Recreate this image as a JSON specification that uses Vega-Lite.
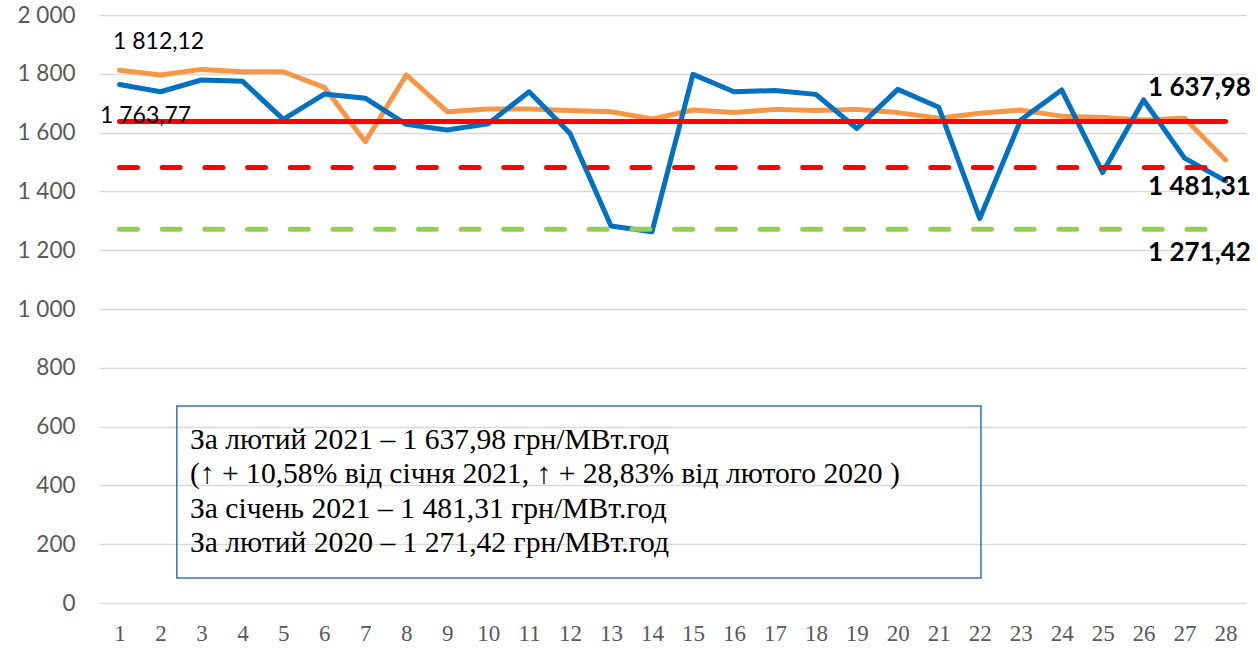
{
  "$schema": "https://vega.github.io/schema/vega-lite/v6.json",
  "width": 1147,
  "height": 588,
  "autosize": "none",
  "padding": {"left": 99, "top": 15, "right": 12, "bottom": 46},
  "background": "white",
  "config": {"view": {"stroke": null}},
  "datasets": {
    "series": [
      {"day": 1, "series": "orange", "value": 1812.12},
      {"day": 2, "series": "orange", "value": 1796},
      {"day": 3, "series": "orange", "value": 1815},
      {"day": 4, "series": "orange", "value": 1807},
      {"day": 5, "series": "orange", "value": 1807},
      {"day": 6, "series": "orange", "value": 1754},
      {"day": 7, "series": "orange", "value": 1569},
      {"day": 8, "series": "orange", "value": 1796},
      {"day": 9, "series": "orange", "value": 1671},
      {"day": 10, "series": "orange", "value": 1680},
      {"day": 11, "series": "orange", "value": 1680},
      {"day": 12, "series": "orange", "value": 1675},
      {"day": 13, "series": "orange", "value": 1671},
      {"day": 14, "series": "orange", "value": 1646},
      {"day": 15, "series": "orange", "value": 1677},
      {"day": 16, "series": "orange", "value": 1668},
      {"day": 17, "series": "orange", "value": 1679},
      {"day": 18, "series": "orange", "value": 1675},
      {"day": 19, "series": "orange", "value": 1679},
      {"day": 20, "series": "orange", "value": 1668},
      {"day": 21, "series": "orange", "value": 1649},
      {"day": 22, "series": "orange", "value": 1666},
      {"day": 23, "series": "orange", "value": 1677},
      {"day": 24, "series": "orange", "value": 1656},
      {"day": 25, "series": "orange", "value": 1651},
      {"day": 26, "series": "orange", "value": 1643},
      {"day": 27, "series": "orange", "value": 1649},
      {"day": 28, "series": "orange", "value": 1507},
      {"day": 1, "series": "blue", "value": 1763.77},
      {"day": 2, "series": "blue", "value": 1739},
      {"day": 3, "series": "blue", "value": 1779},
      {"day": 4, "series": "blue", "value": 1775},
      {"day": 5, "series": "blue", "value": 1645},
      {"day": 6, "series": "blue", "value": 1731},
      {"day": 7, "series": "blue", "value": 1717},
      {"day": 8, "series": "blue", "value": 1628},
      {"day": 9, "series": "blue", "value": 1609},
      {"day": 10, "series": "blue", "value": 1630},
      {"day": 11, "series": "blue", "value": 1739},
      {"day": 12, "series": "blue", "value": 1597},
      {"day": 13, "series": "blue", "value": 1282},
      {"day": 14, "series": "blue", "value": 1263},
      {"day": 15, "series": "blue", "value": 1798},
      {"day": 16, "series": "blue", "value": 1739},
      {"day": 17, "series": "blue", "value": 1743},
      {"day": 18, "series": "blue", "value": 1730},
      {"day": 19, "series": "blue", "value": 1614},
      {"day": 20, "series": "blue", "value": 1747},
      {"day": 21, "series": "blue", "value": 1686},
      {"day": 22, "series": "blue", "value": 1308},
      {"day": 23, "series": "blue", "value": 1643},
      {"day": 24, "series": "blue", "value": 1745},
      {"day": 25, "series": "blue", "value": 1464},
      {"day": 26, "series": "blue", "value": 1711},
      {"day": 27, "series": "blue", "value": 1513},
      {"day": 28, "series": "blue", "value": 1436}
    ]
  },
  "layer": [
    {
      "data": {"values": [{"day": 1, "value": 0}]},
      "mark": {"type": "point", "opacity": 0},
      "encoding": {
        "x": {
          "field": "day", "type": "quantitative",
          "scale": {"domain": [0.5, 28.5], "nice": false, "zero": false},
          "axis": {
            "values": [1,2,3,4,5,6,7,8,9,10,11,12,13,14,15,16,17,18,19,20,21,22,23,24,25,26,27,28],
            "format": "d", "grid": false, "domain": false, "ticks": false,
            "labelFont": "Liberation Serif", "labelFontSize": 23, "labelColor": "#595959",
            "labelPadding": 19, "title": null
          }
        },
        "y": {
          "field": "value", "type": "quantitative",
          "scale": {"domain": [0, 2000], "nice": false},
          "axis": {
            "values": [0,200,400,600,800,1000,1200,1400,1600,1800,2000],
            "labelExpr": "replace(format(datum.value, ','), ',', ' ')",
            "grid": true, "gridColor": "#D9D9D9", "gridWidth": 1.3,
            "domain": false, "ticks": false,
            "labelFont": "Lato", "labelFontSize": 22.5, "labelColor": "#595959",
            "labelPadding": 24, "title": null
          }
        }
      }
    },
    {
      "data": {"values": [{"day": 2.40, "day2": 22.03, "value": 670, "value2": 85}]},
      "mark": {"type": "rect", "fill": null, "fillOpacity": 0, "stroke": "#2E75B6", "strokeWidth": 1.5},
      "encoding": {
        "x": {"field": "day", "type": "quantitative"},
        "x2": {"field": "day2"},
        "y": {"field": "value", "type": "quantitative"},
        "y2": {"field": "value2"}
      }
    },
    {
      "data": {"name": "series"},
      "transform": [{"filter": "datum.series === 'orange'"}],
      "mark": {"type": "line", "color": "#F79646", "strokeWidth": 5, "strokeJoin": "round", "strokeCap": "round"},
      "encoding": {
        "x": {"field": "day", "type": "quantitative"},
        "y": {"field": "value", "type": "quantitative"}
      }
    },
    {
      "data": {"name": "series"},
      "transform": [{"filter": "datum.series === 'blue'"}],
      "mark": {"type": "line", "color": "#0070C0", "strokeWidth": 5, "strokeJoin": "round", "strokeCap": "round"},
      "encoding": {
        "x": {"field": "day", "type": "quantitative"},
        "y": {"field": "value", "type": "quantitative"}
      }
    },
    {
      "data": {"values": [{"day": 1, "day2": 28, "value": 1637.98}]},
      "mark": {"type": "rule", "color": "#FF0000", "strokeWidth": 5, "strokeCap": "round"},
      "encoding": {
        "x": {"field": "day", "type": "quantitative"},
        "x2": {"field": "day2"},
        "y": {"field": "value", "type": "quantitative"}
      }
    },
    {
      "data": {"values": [{"day": 1, "day2": 28, "value": 1481.31}]},
      "mark": {"type": "rule", "color": "#FF0000", "strokeWidth": 5, "strokeCap": "round", "strokeDash": [18, 24.7]},
      "encoding": {
        "x": {"field": "day", "type": "quantitative"},
        "x2": {"field": "day2"},
        "y": {"field": "value", "type": "quantitative"}
      }
    },
    {
      "data": {"values": [{"day": 1, "day2": 28, "value": 1271.42}]},
      "mark": {"type": "rule", "color": "#92D050", "strokeWidth": 5, "strokeCap": "round", "strokeDash": [18, 24.7]},
      "encoding": {
        "x": {"field": "day", "type": "quantitative"},
        "x2": {"field": "day2"},
        "y": {"field": "value", "type": "quantitative"}
      }
    },
    {
      "data": {"values": [{"day": 1, "value": 1812.12, "label": "1 812,12"}]},
      "mark": {"type": "text", "align": "left", "baseline": "middle", "dx": -6.5, "dy": -28, "font": "Lato", "fontSize": 23, "color": "#000000"},
      "encoding": {
        "x": {"field": "day", "type": "quantitative"},
        "y": {"field": "value", "type": "quantitative"},
        "text": {"field": "label"}
      }
    },
    {
      "data": {"values": [{"day": 1, "value": 1763.77, "label": "1 763,77"}]},
      "mark": {"type": "text", "align": "left", "baseline": "middle", "dx": -19.5, "dy": 32, "font": "Lato", "fontSize": 23, "color": "#000000"},
      "encoding": {
        "x": {"field": "day", "type": "quantitative"},
        "y": {"field": "value", "type": "quantitative"},
        "text": {"field": "label"}
      }
    },
    {
      "data": {"values": [{"day": 28, "value": 1637.98, "label": "1 637,98"}]},
      "mark": {"type": "text", "align": "left", "baseline": "middle", "dx": -77.5, "dy": -33, "font": "Lato", "fontSize": 26, "fontWeight": "bold", "color": "#000000"},
      "encoding": {
        "x": {"field": "day", "type": "quantitative"},
        "y": {"field": "value", "type": "quantitative"},
        "text": {"field": "label"}
      }
    },
    {
      "data": {"values": [{"day": 28, "value": 1481.31, "label": "1 481,31"}]},
      "mark": {"type": "text", "align": "left", "baseline": "middle", "dx": -77.5, "dy": 20, "font": "Lato", "fontSize": 26, "fontWeight": "bold", "color": "#000000"},
      "encoding": {
        "x": {"field": "day", "type": "quantitative"},
        "y": {"field": "value", "type": "quantitative"},
        "text": {"field": "label"}
      }
    },
    {
      "data": {"values": [{"day": 28, "value": 1271.42, "label": "1 271,42"}]},
      "mark": {"type": "text", "align": "left", "baseline": "middle", "dx": -77.5, "dy": 24, "font": "Lato", "fontSize": 26, "fontWeight": "bold", "color": "#000000"},
      "encoding": {
        "x": {"field": "day", "type": "quantitative"},
        "y": {"field": "value", "type": "quantitative"},
        "text": {"field": "label"}
      }
    },
    {
      "data": {"values": [{"day": 2.72, "value": 554.4, "label": "За лютий 2021 – 1 637,98 грн/МВт.год\n(↑ + 10,58% від січня 2021, ↑ + 28,83% від лютого 2020 )\nЗа січень 2021 – 1 481,31 грн/МВт.год\nЗа лютий 2020 – 1 271,42 грн/МВт.год"}]},
      "mark": {"type": "text", "align": "left", "baseline": "middle", "lineBreak": "\n", "lineHeight": 34.3, "font": "Liberation Serif", "fontSize": 29.6, "color": "#000000"},
      "encoding": {
        "x": {"field": "day", "type": "quantitative"},
        "y": {"field": "value", "type": "quantitative"},
        "text": {"field": "label"}
      }
    }
  ]
}
